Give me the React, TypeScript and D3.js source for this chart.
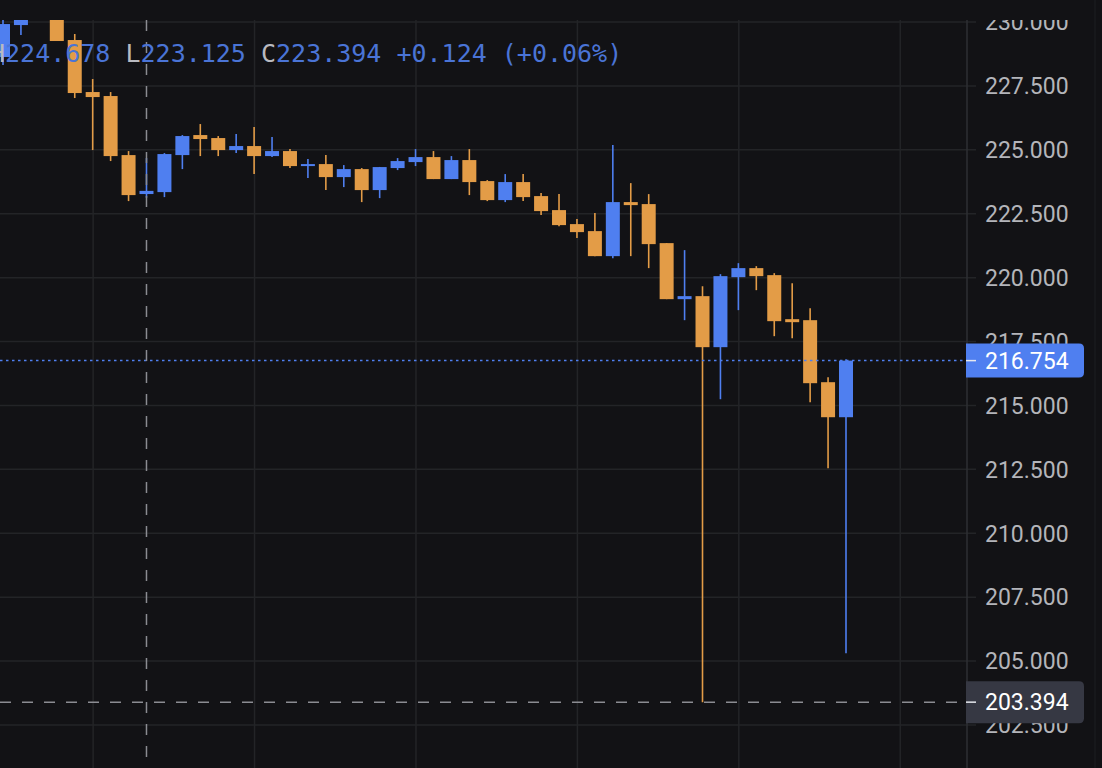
import React, { useEffect, useRef } from "react";
import * as d3 from "d3";

const WIDTH = 1102;
const HEIGHT = 768;

// oldest first
const opens = [
  228.63, 229.88, 231.0, 230.6, 229.295, 227.26, 227.104, 224.794, 223.27, 223.346, 224.794, 225.577,
  225.46, 224.99, 225.147, 224.755, 224.951, 224.364, 224.442, 223.933, 224.246, 223.425, 224.286, 224.52,
  224.716, 223.855, 224.599, 223.777, 223.033, 223.738, 223.19, 222.642, 222.094, 221.82, 220.841, 222.955,
  222.877, 221.35, 219.158, 219.276, 217.28, 220.019, 220.372, 220.098, 218.375, 218.336, 215.91, 214.54,
];
const highs = [
  230.1, 230.3, 231.2, 230.8, 229.53, 227.769, 227.26, 224.951, 224.678, 224.873, 225.577, 226.008,
  225.538, 225.616, 225.89, 225.499, 225.029, 224.638, 224.794, 224.403, 224.286, 224.33, 224.677, 225.029,
  224.951, 224.755, 225.029, 223.816, 224.051, 224.051, 223.307, 223.268, 222.289, 222.524, 225.186, 223.698,
  223.268, 221.35, 221.076, 219.667, 220.137, 220.567, 220.45, 220.176, 219.785, 218.806, 216.106, 216.81,
];
const lows = [
  228.317, 229.49, 230.3, 229.256, 227.025, 224.99, 224.56, 222.994, 223.125, 223.15, 224.246, 224.755,
  224.755, 224.873, 224.051, 224.716, 224.286, 223.894, 223.425, 223.542, 222.955, 223.111, 224.207, 224.364,
  223.855, 223.855, 223.229, 222.994, 222.955, 222.994, 222.446, 222.015, 221.546, 220.841, 220.763, 220.841,
  220.372, 219.158, 218.336, 203.394, 215.244, 218.728, 219.51, 217.71, 217.632, 215.127, 212.544, 205.303,
];
const closes = [
  229.92, 230.25, 230.4, 229.256, 227.221, 227.064, 224.755, 223.229, 223.394, 224.834, 225.538, 225.421,
  224.99, 225.147, 224.755, 224.951, 224.364, 224.442, 223.933, 224.246, 223.425, 224.325, 224.56, 224.716,
  223.855, 224.599, 223.738, 223.033, 223.738, 223.15, 222.603, 222.055, 221.781, 220.841, 222.955, 222.837,
  221.311, 219.158, 219.276, 217.28, 220.058, 220.372, 220.058, 218.297, 218.258, 215.871, 214.54, 216.754,
];

const priceTicks = [230, 227.5, 225, 222.5, 220, 217.5, 215, 212.5, 210, 207.5, 205, 202.5];
const timeGridSlots = [6, 15, 24, 33, 42, 51];

const lastPrice = 216.754;
const crosshairPrice = 203.394;
const crosshairSlot = 8;

const legendParts = [
  { text: "H", kind: "label" },
  { text: "224.678 ", kind: "value" },
  { text: "L", kind: "label" },
  { text: "223.125 ", kind: "value" },
  { text: "C", kind: "label" },
  { text: "223.394 +0.124 (+0.06%)", kind: "value" },
];

const BG = "#121215";
const GRID = "#232427";
const UP = "#4f7ff0";
const DOWN = "#e39c47";
const AXIS_TEXT = "#b4b5ba";

export default function App() {
  const ref = useRef<SVGSVGElement>(null);

  useEffect(() => {
    const svg = d3.select(ref.current);
    svg.selectAll("*").remove();

    const x = d3.scaleLinear().domain([0, 47]).range([3, 846]);
    const y = d3.scaleLinear().domain([230, 202.5]).range([22, 725]);
    const plotTop = 20;
    const plotRight = 967;
    const bodyWidth = 14;

    svg.append("rect").attr("width", WIDTH).attr("height", HEIGHT).attr("fill", BG);

    svg
      .append("clipPath")
      .attr("id", "plot-clip")
      .append("rect")
      .attr("x", 0)
      .attr("y", plotTop)
      .attr("width", plotRight)
      .attr("height", HEIGHT - plotTop);

    svg
      .append("clipPath")
      .attr("id", "axis-clip")
      .append("rect")
      .attr("x", plotRight)
      .attr("y", plotTop)
      .attr("width", WIDTH - plotRight)
      .attr("height", HEIGHT - plotTop);

    // grid
    const grid = svg.append("g").attr("stroke", GRID).attr("stroke-width", 1.5);
    priceTicks.forEach((t) => {
      grid
        .append("line")
        .attr("x1", 0)
        .attr("x2", 976)
        .attr("y1", y(t))
        .attr("y2", y(t));
    });
    timeGridSlots.forEach((s) => {
      grid
        .append("line")
        .attr("x1", x(s) - 17.5)
        .attr("x2", x(s) - 17.5)
        .attr("y1", plotTop)
        .attr("y2", HEIGHT);
    });
    svg
      .append("line")
      .attr("x1", plotRight)
      .attr("x2", plotRight)
      .attr("y1", plotTop)
      .attr("y2", HEIGHT)
      .attr("stroke", "#2e2f33")
      .attr("stroke-width", 1.5);
    svg
      .append("line")
      .attr("x1", 1095)
      .attr("x2", 1095)
      .attr("y1", 0)
      .attr("y2", HEIGHT)
      .attr("stroke", "#1a1b1e")
      .attr("stroke-width", 1.5);

    // candles
    const candles = svg.append("g").attr("clip-path", "url(#plot-clip)");
    opens.forEach((o, i) => {
      const c = closes[i];
      const color = c >= o ? UP : DOWN;
      candles
        .append("line")
        .attr("x1", x(i))
        .attr("x2", x(i))
        .attr("y1", y(highs[i]))
        .attr("y2", y(lows[i]))
        .attr("stroke", color)
        .attr("stroke-width", 1.6);
      candles
        .append("rect")
        .attr("x", x(i) - bodyWidth / 2)
        .attr("y", y(Math.max(o, c)))
        .attr("width", bodyWidth)
        .attr("height", Math.max(Math.abs(y(o) - y(c)), 2))
        .attr("fill", color);
    });

    // last price line
    svg
      .append("line")
      .attr("x1", 0)
      .attr("x2", plotRight)
      .attr("y1", y(lastPrice))
      .attr("y2", y(lastPrice))
      .attr("stroke", UP)
      .attr("stroke-width", 1.5)
      .attr("stroke-dasharray", "2.5 3.5");

    // crosshair
    svg
      .append("line")
      .attr("x1", x(crosshairSlot))
      .attr("x2", x(crosshairSlot))
      .attr("y1", plotTop)
      .attr("y2", 757)
      .attr("stroke", "#8b8c92")
      .attr("stroke-width", 1.5)
      .attr("stroke-dasharray", "11 11");
    svg
      .append("line")
      .attr("x1", 0)
      .attr("x2", plotRight)
      .attr("y1", y(crosshairPrice))
      .attr("y2", y(crosshairPrice))
      .attr("stroke", "#8b8c92")
      .attr("stroke-width", 1.5)
      .attr("stroke-dasharray", "11 11");

    // legend
    const legend = svg
      .append("text")
      .attr("x", -10)
      .attr("y", 62)
      .attr("font-family", "'DejaVu Sans Mono', monospace")
      .attr("font-size", 25)
      .attr("xml:space", "preserve")
      .style("white-space", "pre");
    legendParts.forEach((p) => {
      legend
        .append("tspan")
        .attr("fill", p.kind === "label" ? "#b9bac0" : "#4a74d6")
        .text(p.text);
    });

    // price axis
    const axisFont = "Roboto, 'Liberation Sans', sans-serif";
    const axis = svg.append("g").attr("clip-path", "url(#axis-clip)");
    priceTicks.forEach((t) => {
      axis
        .append("text")
        .attr("x", 985)
        .attr("y", y(t))
        .attr("dy", "0.36em")
        .attr("font-family", axisFont)
        .attr("font-size", 23)
        .attr("fill", AXIS_TEXT)
        .text(d3.format(".3f")(t));
    });

    const priceLabel = (value: number, h: number, fill: string) => {
      const cy = y(value);
      const top = cy - h / 2;
      const right = 1084;
      const r = 5;
      svg
        .append("path")
        .attr(
          "d",
          `M${plotRight - 1},${top}H${right - r}Q${right},${top} ${right},${top + r}V${top + h - r}Q${right},${top + h} ${right - r},${top + h}H${plotRight - 1}Z`
        )
        .attr("fill", fill);
      svg
        .append("line")
        .attr("x1", plotRight - 1)
        .attr("x2", 976)
        .attr("y1", cy)
        .attr("y2", cy)
        .attr("stroke", "#e6e8ee")
        .attr("stroke-width", 1.5);
      svg
        .append("text")
        .attr("x", 985)
        .attr("y", cy)
        .attr("dy", "0.36em")
        .attr("font-family", axisFont)
        .attr("font-size", 23)
        .attr("fill", "#ffffff")
        .text(d3.format(".3f")(value));
    };
    priceLabel(lastPrice, 34, UP);
    priceLabel(crosshairPrice, 42, "#363843");
  }, []);

  return (
    <svg
      ref={ref}
      width={WIDTH}
      height={HEIGHT}
      style={{ position: "fixed", left: 0, top: 0, display: "block" }}
    />
  );
}
